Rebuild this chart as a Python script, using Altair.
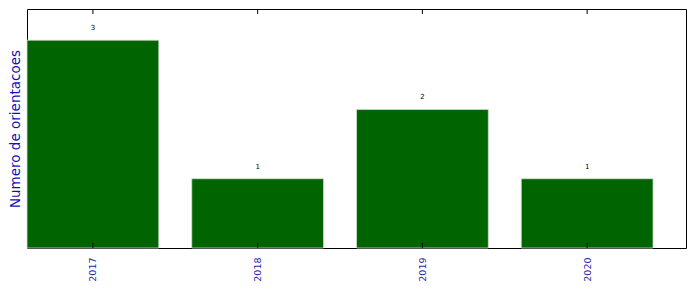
import altair as alt
import pandas as pd

years = ["2017", "2018", "2019", "2020"]
counts = [3, 1, 2, 1]

pos = [i for i in range(len(years))]
df = pd.DataFrame({
    "year": years,
    "count": counts,
    "x0": pos,
    "x1": [p + 0.8 for p in pos],
    "xc": [p + 0.4 for p in pos],
})

W, H = 659, 239
xscale = alt.Scale(domain=[0, 4], nice=False, zero=False)
yscale = alt.Scale(domain=[0, 3.45], nice=False, zero=True)

label_expr = "{'0.4':'2017','1.4':'2018','2.4':'2019','3.4':'2020'}[format(datum.value, '.1f')]"

bars = alt.Chart(df).mark_rect(color="#006400", stroke="#cfe0cf", strokeWidth=0.8).encode(
    x=alt.X("x0:Q", scale=xscale, axis=alt.Axis(
        values=[0.4, 1.4, 2.4, 3.4], labelExpr=label_expr, title=None,
        ticks=False, domain=False, grid=False, labelAngle=270,
        labelColor="#1f1fa8", labelFont="DejaVu Sans", labelFontSize=9.5,
        labelPadding=9)),
    x2="x1:Q",
    y=alt.Y("count:Q", scale=yscale, axis=alt.Axis(
        title="Numero de orientacoes", labels=False, ticks=False, domain=False,
        grid=False, titleColor="#1010b8", titleFont="DejaVu Sans",
        titleFontSize=13.5, titleFontWeight="normal", titlePadding=5)),
    y2=alt.datum(0),
)

texts = alt.Chart(df).mark_text(fontSize=7, font="DejaVu Sans", color="black",
                                 baseline="alphabetic", dy=-10).encode(
    x=alt.X("xc:Q", scale=xscale),
    y=alt.Y("count:Q", scale=yscale),
    text="count:Q",
)

ticks_bottom = alt.Chart(df).mark_rule(color="black", strokeWidth=1).encode(
    x=alt.X("xc:Q", scale=xscale),
    y=alt.value(H),
    y2=alt.value(H - 5),
)
ticks_top = alt.Chart(df).mark_rule(color="black", strokeWidth=1).encode(
    x=alt.X("xc:Q", scale=xscale),
    y=alt.value(0),
    y2=alt.value(5),
)

chart = alt.layer(bars, texts, ticks_bottom, ticks_top).properties(
    width=W, height=H,
    autosize=alt.AutoSizeParams(type="none"),
    padding={"left": 27, "top": 9, "right": 10, "bottom": 44},
    background="white",
).configure_view(stroke="black", strokeWidth=1)

chart.save("out.html", embed_options={"renderer": "svg", "actions": False})
